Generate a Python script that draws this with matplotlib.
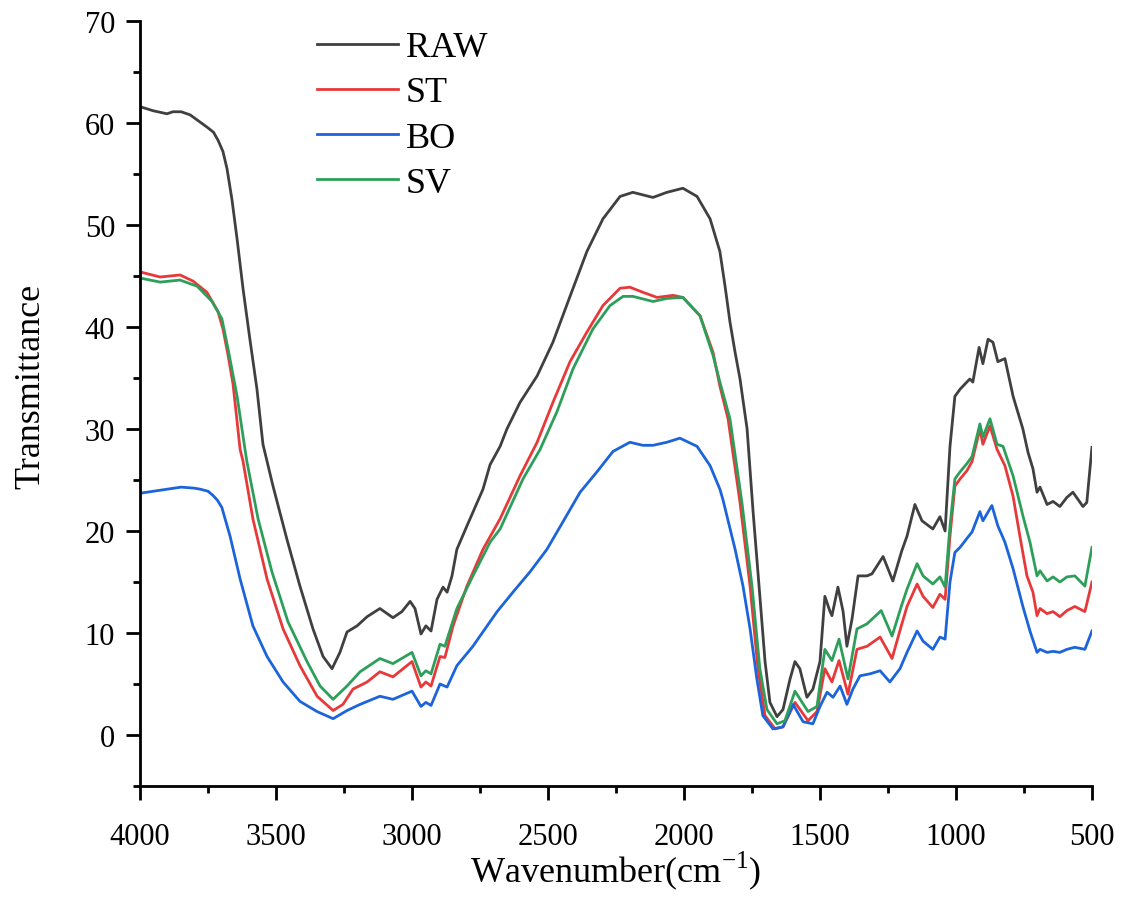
import numpy as np
import matplotlib
matplotlib.use('Agg')
import matplotlib.pyplot as plt
from matplotlib.ticker import MultipleLocator

plt.rcParams['font.family'] = ['Liberation Serif', 'DejaVu Serif']
plt.rcParams['mathtext.fontset'] = 'custom'
plt.rcParams['mathtext.rm'] = 'Liberation Serif'

# 読み取った FTIR スペクトル (波数 cm-1, 透過率)
wn_raw = [4000, 3952, 3901, 3879, 3849, 3816, 3754, 3730, 3713, 3695, 3680, 3662, 3643, 3621,
          3596, 3570, 3548, 3511, 3460, 3412, 3364, 3327, 3294, 3265, 3239, 3202, 3165, 3118,
          3070, 3037, 3007, 2989, 2967, 2949, 2930, 2908, 2886, 2871, 2853, 2835, 2798, 2739,
          2713, 2676, 2651, 2603, 2540, 2482, 2419, 2357, 2298, 2235, 2188, 2114, 2063, 2004,
          1952, 1904, 1868, 1849, 1831, 1812, 1794, 1768, 1746, 1721, 1702, 1684, 1658, 1636,
          1610, 1592, 1574, 1548, 1526, 1500, 1482, 1463, 1456, 1434, 1415, 1401, 1382, 1360,
          1327, 1309, 1268, 1232, 1200, 1180, 1151, 1125, 1085, 1059, 1040, 1022, 1004, 985,
          960, 949, 938, 915, 901, 882, 864, 846, 820, 790, 754, 735, 717, 702, 691, 665,
          643, 618, 592, 570, 533, 519, 500]
raw = [61.6, 61.2, 60.9, 61.1, 61.1, 60.8, 59.6, 59.1, 58.3, 57.2, 55.5, 52.5, 48.6, 43.7,
       38.8, 33.9, 28.5, 24.4, 19.2, 14.6, 10.4, 7.7, 6.5, 8.1, 10.1, 10.7, 11.6, 12.4,
       11.5, 12.1, 13.1, 12.4, 9.9, 10.7, 10.2, 13.3, 14.5, 14.0, 15.6, 18.2, 20.5, 24.1,
       26.5, 28.3, 30.0, 32.6, 35.2, 38.5, 43.0, 47.4, 50.6, 52.8, 53.2, 52.7, 53.2, 53.6,
       52.8, 50.6, 47.4, 44.0, 40.5, 37.5, 34.9, 30.0, 21.9, 13.6, 7.2, 3.2, 1.8, 2.5,
       5.5, 7.2, 6.5, 3.7, 4.5, 7.2, 13.6, 12.1, 11.7, 14.5, 12.1, 8.7, 11.4, 15.6,
       15.6, 15.8, 17.5, 15.1, 18.0, 19.5, 22.6, 21.0, 20.2, 21.4, 20.0, 28.3, 33.2, 33.9,
       34.6, 34.9, 34.6, 38.0, 36.4, 38.8, 38.5, 36.6, 36.9, 33.2, 30.0, 27.7, 26.1, 23.8, 24.3, 22.6,
       22.9, 22.4, 23.3, 23.8, 22.4, 22.8, 28.2]

wn_st = [4000, 3926, 3853, 3805, 3754, 3713, 3695, 3676, 3658, 3632, 3621, 3585, 3533, 3474,
         3412, 3349, 3290, 3254, 3217, 3165, 3118, 3070, 3000, 2967, 2949, 2930, 2897, 2879,
         2849, 2798, 2739, 2676, 2603, 2540, 2482, 2419, 2357, 2298, 2235, 2199, 2151, 2099,
         2040, 2004, 1941, 1893, 1868, 1838, 1794, 1757, 1728, 1702, 1665, 1636, 1592, 1544,
         1511, 1482, 1456, 1430, 1397, 1364, 1327, 1279, 1235, 1200, 1180, 1143, 1121, 1085,
         1059, 1040, 1022, 1004, 985, 960, 941, 912, 901, 875, 849, 820, 790, 765, 739, 717,
         702, 691, 665, 643, 618, 592, 563, 526, 500]
st = [45.4, 44.9, 45.1, 44.5, 43.4, 41.5, 39.8, 37.2, 34.4, 28.0, 26.8, 21.2, 15.3, 10.4,
      6.8, 3.8, 2.4, 3.0, 4.5, 5.2, 6.2, 5.7, 7.2, 4.7, 5.2, 4.8, 7.7, 7.6,
      10.7, 14.6, 18.2, 21.2, 25.4, 28.7, 32.6, 36.6, 39.5, 42.1, 43.8, 43.9, 43.4, 42.9,
      43.1, 42.9, 41.1, 37.5, 34.2, 31.0, 22.8, 14.6, 6.5, 1.9, 0.6, 0.8, 3.2, 1.4,
      2.3, 6.5, 5.2, 7.3, 4.0, 8.4, 8.7, 9.6, 7.5, 10.8, 12.6, 14.8, 13.6, 12.5,
      13.8, 13.3, 19.5, 24.4, 25.1, 25.9, 26.8, 30.0, 28.5, 30.3, 28.0, 26.4, 23.4, 19.5, 15.6, 14.0,
      11.7, 12.4, 11.9, 12.1, 11.6, 12.2, 12.6, 12.1, 15.0]

wn_bo = [4000, 3900, 3849, 3800, 3779, 3750, 3732, 3715, 3699, 3669, 3632, 3585, 3533, 3474,
         3412, 3349, 3290, 3239, 3191, 3118, 3070, 3000, 2967, 2949, 2930, 2897, 2871, 2835,
         2776, 2750, 2687, 2629, 2566, 2504, 2445, 2382, 2320, 2261, 2199, 2151, 2114, 2063,
         2015, 1952, 1904, 1868, 1857, 1812, 1783, 1757, 1732, 1710, 1673, 1636, 1599, 1562,
         1526, 1500, 1474, 1452, 1426, 1401, 1379, 1353, 1316, 1279, 1243, 1206, 1180, 1143,
         1121, 1085, 1059, 1040, 1022, 1004, 985, 956, 941, 912, 901, 868, 846, 820, 790, 754,
         728, 702, 691, 665, 643, 618, 592, 563, 526, 500]
bo = [23.7, 24.1, 24.3, 24.2, 24.1, 23.9, 23.5, 23.0, 22.3, 19.5, 15.3, 10.7, 7.7, 5.2,
      3.3, 2.3, 1.6, 2.4, 3.0, 3.8, 3.5, 4.3, 2.8, 3.2, 2.9, 5.0, 4.7, 6.8,
      8.7, 9.7, 12.1, 14.0, 16.0, 18.2, 20.9, 23.8, 25.8, 27.8, 28.7, 28.4, 28.4, 28.7,
      29.1, 28.3, 26.4, 24.1, 23.1, 18.2, 14.6, 10.4, 5.5, 1.9, 0.6, 0.8, 3.0, 1.3,
      1.1, 2.8, 4.2, 3.7, 4.8, 3.0, 4.5, 5.8, 6.0, 6.3, 5.2, 6.5, 8.1, 10.2,
      9.2, 8.4, 9.6, 9.4, 15.0, 17.9, 18.4, 19.4, 19.9, 21.9, 21.0, 22.5, 20.5, 18.9, 16.3, 12.6,
      10.2, 8.1, 8.4, 8.1, 8.2, 8.1, 8.4, 8.6, 8.4, 10.2]

wn_sv = [4000, 3926, 3853, 3790, 3735, 3699, 3676, 3643, 3614, 3607, 3566, 3515, 3456, 3386,
         3338, 3290, 3239, 3191, 3118, 3070, 3000, 2967, 2949, 2930, 2897, 2879, 2835, 2776,
         2713, 2676, 2592, 2529, 2467, 2408, 2335, 2272, 2224, 2188, 2114, 2063, 2004, 1941,
         1893, 1868, 1831, 1787, 1750, 1721, 1695, 1658, 1629, 1592, 1544, 1511, 1482, 1456,
         1430, 1397, 1364, 1327, 1275, 1235, 1200, 1180, 1143, 1121, 1085, 1059, 1040, 1022,
         1004, 985, 960, 941, 912, 901, 875, 849, 827, 790, 754, 728, 702, 691, 665, 643,
         618, 592, 563, 526, 500]
sv = [44.8, 44.4, 44.6, 44.0, 42.5, 40.8, 37.8, 33.2, 28.0, 26.8, 21.2, 16.0, 11.1, 7.2,
      4.8, 3.5, 4.8, 6.2, 7.5, 7.0, 8.1, 5.8, 6.3, 6.0, 8.9, 8.7, 12.4, 15.6,
      18.9, 20.2, 25.1, 28.0, 31.7, 35.9, 39.8, 42.1, 43.0, 43.0, 42.5, 42.8, 42.9, 41.1,
      37.2, 34.6, 31.0, 22.8, 14.6, 6.5, 2.5, 1.1, 1.4, 4.3, 2.3, 2.8, 8.4, 7.3,
      9.4, 5.5, 10.4, 10.9, 12.2, 9.7, 12.7, 14.3, 16.8, 15.6, 14.8, 15.5, 14.5, 20.5,
      25.1, 25.8, 26.6, 27.3, 30.5, 29.2, 31.0, 28.5, 28.3, 25.4, 21.5, 18.9, 15.6, 16.1, 15.1, 15.5,
      15.0, 15.5, 15.6, 14.6, 18.4]

fig = plt.figure(figsize=(11.21, 9.04), dpi=100)
ax = fig.add_axes([0.1249, 0.1294, 0.8492, 0.8463])

lw = 2.0
ax.plot(wn_raw, raw, color='#404040', lw=lw, label='RAW')
ax.plot(wn_st, st, color='#e8393a', lw=lw, label='ST')
ax.plot(wn_bo, bo, color='#1c64d9', lw=lw, label='BO')
ax.plot(wn_sv, sv, color='#2e9f5a', lw=lw, label='SV')

ax.set_xlim(4000, 500)
ax.set_ylim(-5, 70)
ax.xaxis.set_major_locator(MultipleLocator(500))
ax.xaxis.set_minor_locator(MultipleLocator(250))
ax.yaxis.set_major_locator(MultipleLocator(10))
ax.yaxis.set_minor_locator(MultipleLocator(5))

for s in ['top', 'right']:
    ax.spines[s].set_visible(False)
for s in ['left', 'bottom']:
    ax.spines[s].set_linewidth(2.0)

ax.tick_params(which='major', direction='out', length=10, width=2.0, labelsize=22)
ax.tick_params(axis='x', which='major', pad=16)
ax.tick_params(axis='y', which='major', pad=8)
ax.tick_params(which='minor', direction='out', length=5, width=2.0)

ax.set_xlabel(r'Wavenumber(cm$^{-1}$)', fontsize=26)
ax.set_ylabel('Transmittance', fontsize=26)
ax.xaxis.set_label_coords(0.5, -0.082)
ax.yaxis.set_label_coords(-0.097, 0.524)

ax.legend(loc='upper left', bbox_to_anchor=(0.186, 0.987), frameon=False, fontsize=26,
          handlelength=2.25, handletextpad=0.2, labelspacing=0.33, borderpad=0, borderaxespad=0)

fig.savefig('out.png', dpi=100)
